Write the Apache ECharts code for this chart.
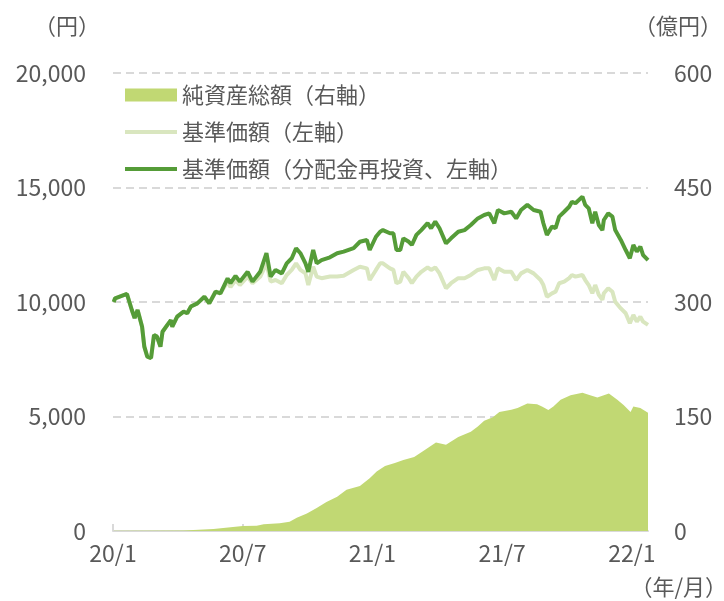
<!DOCTYPE html>
<html>
<head>
<meta charset="utf-8">
<script src="https://cdn.jsdelivr.net/npm/echarts@6/dist/echarts.min.js"></script>
<style>
  html, body { margin: 0; padding: 0; background: #ffffff; }
  #chart { width: 724px; height: 601px; }
</style>
</head>
<body>
<div id="chart"></div>
<script>
// 基準価額の日付
const lineDates = [
  '2020-01-02', '2020-01-04', '2020-01-21', '2020-01-28', '2020-02-01', '2020-02-05', '2020-02-11', '2020-02-14',
  '2020-02-18', '2020-02-23', '2020-02-27', '2020-03-02', '2020-03-07', '2020-03-10', '2020-03-17', '2020-03-22',
  '2020-03-24', '2020-03-31', '2020-04-09', '2020-04-14', '2020-04-19', '2020-04-28', '2020-05-08', '2020-05-15',
  '2020-05-24', '2020-05-31', '2020-06-10', '2020-06-14', '2020-06-21', '2020-06-27', '2020-07-08', '2020-07-15',
  '2020-07-26', '2020-08-04', '2020-08-10', '2020-08-17', '2020-08-26', '2020-09-02', '2020-09-09', '2020-09-15',
  '2020-09-21', '2020-09-28', '2020-10-02', '2020-10-09', '2020-10-14', '2020-10-21', '2020-11-02', '2020-11-12',
  '2020-11-21', '2020-12-05', '2020-12-14', '2020-12-24', '2020-12-28', '2021-01-06', '2021-01-12', '2021-01-16',
  '2021-01-26', '2021-01-31', '2021-02-04', '2021-02-09', '2021-02-13', '2021-02-20', '2021-02-24', '2021-03-02',
  '2021-03-09', '2021-03-18', '2021-03-23', '2021-03-29', '2021-04-04', '2021-04-13', '2021-04-20', '2021-04-30',
  '2021-05-09', '2021-05-18', '2021-05-28', '2021-06-06', '2021-06-13', '2021-06-20', '2021-06-25', '2021-07-04',
  '2021-07-14', '2021-07-21', '2021-07-28', '2021-08-06', '2021-08-15', '2021-08-25', '2021-08-29', '2021-09-03',
  '2021-09-10', '2021-09-15', '2021-09-20', '2021-09-27', '2021-10-04', '2021-10-08', '2021-10-13', '2021-10-23',
  '2021-10-27', '2021-11-01', '2021-11-06', '2021-11-10', '2021-11-15', '2021-11-20', '2021-11-22', '2021-11-28',
  '2021-12-04', '2021-12-08', '2021-12-16', '2021-12-23', '2021-12-29', '2022-01-03', '2022-01-08', '2022-01-13',
  '2022-01-17', '2022-01-24'
];
// 基準価額（分配金再投資）
const navReinvest = [
  10000, 10160, 10350, 9650, 9300, 9650, 8920, 8050,
  7610, 7550, 8560, 8490, 8050, 8700, 9000, 9210,
  8920, 9360, 9580, 9510, 9800, 9940, 10230, 9940,
  10450, 10380, 11030, 10820, 11140, 10890, 11320, 10890,
  11320, 12130, 11110, 11400, 11250, 11690, 11910, 12350,
  12130, 11690, 11320, 12270, 11690, 11830, 11950, 12130,
  12200, 12350, 12630, 12710, 12270, 12850, 13070, 13140,
  13000, 13000, 12270, 12270, 12780, 12630, 12490, 12930,
  13140, 13440, 13220, 13510, 13220, 12560, 12780, 13070,
  13140, 13360, 13650, 13800, 13870, 13440, 14020, 13870,
  13940, 13650, 14020, 14240, 14020, 13940, 13440, 12930,
  13290, 13220, 13730, 13940, 14160, 14380, 14310, 14600,
  14240, 14090, 13440, 13940, 13360, 13140, 13580, 13870,
  13730, 13140, 12710, 12270, 11910, 12490, 12200, 12420,
  12050, 11830
];
// 基準価額
const navBase = [
  10000, 10160, 10350, 9650, 9300, 9650, 8920, 8050,
  7610, 7550, 8560, 8490, 8050, 8700, 9000, 9210,
  8920, 9360, 9580, 9510, 9800, 9940, 10230, 9940,
  10450, 10380, 10890, 10650, 10960, 10740, 11110, 10820,
  11100, 11690, 10890, 10960, 10820, 11180, 11400, 11690,
  11400, 11250, 10740, 11540, 11110, 11040, 11110, 11110,
  11150, 11400, 11540, 11470, 10960, 11400, 11690, 11690,
  11470, 11400, 10820, 10890, 11320, 11040, 10820, 11110,
  11320, 11510, 11400, 11510, 11250, 10600, 10820, 11040,
  11040, 11180, 11400, 11470, 11470, 10960, 11470, 11320,
  11320, 10960, 11250, 11400, 11250, 10960, 10740, 10230,
  10380, 10450, 10820, 10890, 11040, 11180, 11110, 11180,
  10960, 10740, 10380, 10740, 10310, 10090, 10380, 10600,
  10450, 10010, 9720, 9510, 9070, 9430, 9140, 9360,
  9140, 9000
];
// 純資産総額（億円）
const assetDates = [
  '2020-01-02', '2020-04-09', '2020-05-21', '2020-07-01', '2020-07-21', '2020-07-31', '2020-08-23', '2020-09-06',
  '2020-09-16', '2020-09-30', '2020-10-14', '2020-10-28', '2020-11-12', '2020-11-25', '2020-12-14', '2020-12-28',
  '2021-01-07', '2021-01-19', '2021-02-02', '2021-02-13', '2021-02-27', '2021-03-14', '2021-03-30', '2021-04-13',
  '2021-04-30', '2021-05-18', '2021-05-28', '2021-06-06', '2021-06-18', '2021-06-27', '2021-07-14', '2021-07-23',
  '2021-08-06', '2021-08-20', '2021-08-27', '2021-09-05', '2021-09-12', '2021-09-22', '2021-10-06', '2021-10-23',
  '2021-11-03', '2021-11-13', '2021-11-29', '2021-12-11', '2021-12-20', '2021-12-30', '2022-01-03', '2022-01-13',
  '2022-01-24'
];
const assetValues = [
  0.3, 0.8, 2.5, 6.5, 7, 9, 10, 12,
  17.5, 23, 30, 38, 45, 54, 59, 69,
  78, 85, 89, 93, 97, 106, 116, 113,
  123, 130, 137, 144.5, 149, 156, 159, 161,
  167, 166, 163, 158.5, 163, 172, 178, 181,
  178, 175, 180, 172, 165, 156, 163, 161,
  155
];

const names = ['純資産総額（右軸）', '基準価額（左軸）', '基準価額（分配金再投資、左軸）'];
const gray = '#595959';
const font = 'Noto Sans CJK JP';

// 日付 → 2020年1月からの月数（小数）
function monthPos(s) {
  let p = s.split('-').map(Number);
  let dim = new Date(p[0], p[1], 0).getDate();
  return (p[0] - 2020) * 12 + (p[1] - 1) + (p[2] - 1) / dim;
}
function pairs(dates, vals) {
  return dates.map((d, i) => [monthPos(d), vals[i]]);
}

let myChart = echarts.init(document.getElementById('chart'));
let option = {
  animation: false,
  backgroundColor: '#ffffff',
  textStyle: { fontFamily: font },
  grid: { left: 113, right: 76, top: 73, bottom: 70, containLabel: false },
  legend: {
    orient: 'vertical',
    left: 118,
    top: 79,
    itemWidth: 52,
    itemHeight: 13,
    itemGap: 15,
    textStyle: { color: gray, fontSize: 22, fontFamily: font },
    data: [
      { name: names[0], icon: 'rect' },
      { name: names[1], itemStyle: { opacity: 0 }, lineStyle: { width: 4 } },
      { name: names[2], itemStyle: { opacity: 0 }, lineStyle: { width: 4 } }
    ]
  },
  xAxis: {
    type: 'value',
    min: 0,
    max: monthPos(lineDates[lineDates.length - 1]),
    interval: 6,
    axisLine: { lineStyle: { color: '#d9d9d9', width: 2 } },
    axisTick: { show: true, inside: true, length: 7, lineStyle: { color: '#d9d9d9', width: 2 } },
    axisLabel: {
      color: gray,
      fontSize: 23,
      margin: 11,
      showMaxLabel: false,
      formatter: function (v) {
        let y = 20 + Math.floor(v / 12);
        return y + '/' + (Math.round(v % 12) + 1);
      }
    },
    splitLine: { show: false }
  },
  yAxis: [{
    type: 'value',
    min: 0,
    max: 20000,
    interval: 5000,
    axisLine: { show: false },
    axisTick: { show: false },
    axisLabel: {
      color: gray,
      fontSize: 23,
      margin: 27,
      formatter: v => v.toLocaleString('en-US')
    },
    splitLine: { lineStyle: { color: '#d9d9d9', width: 2, type: [8, 5] } }
  }, {
    type: 'value',
    min: 0,
    max: 600,
    interval: 150,
    position: 'right',
    axisLine: { show: false },
    axisTick: { show: false },
    axisLabel: { color: gray, fontSize: 23, margin: 26 },
    splitLine: { show: false }
  }],
  graphic: [
    { type: 'text', left: 34, top: 15, style: { text: '（円）', fill: gray, font: '22px "' + font + '"' } },
    { type: 'text', right: 2, top: 15, style: { text: '（億円）', fill: gray, font: '22px "' + font + '"' } },
    { type: 'text', right: -3, top: 576, style: { text: '（年/月）', fill: gray, font: '22px "' + font + '"' } }
  ],
  series: [{
    name: names[0],
    type: 'line',
    yAxisIndex: 1,
    symbol: 'none',
    lineStyle: { width: 0 },
    itemStyle: { color: '#c1d873' },
    areaStyle: { color: '#c1d873', opacity: 1 },
    z: 1,
    data: pairs(assetDates, assetValues)
  }, {
    name: names[1],
    type: 'line',
    symbol: 'none',
    itemStyle: { color: '#d9e6bf' },
    lineStyle: { color: '#d9e6bf', width: 4 },
    z: 2,
    data: pairs(lineDates, navBase)
  }, {
    name: names[2],
    type: 'line',
    symbol: 'none',
    itemStyle: { color: '#559c38' },
    lineStyle: { color: '#559c38', width: 4 },
    z: 3,
    data: pairs(lineDates, navReinvest)
  }]
};
myChart.setOption(option);
</script>
</body>
</html>
